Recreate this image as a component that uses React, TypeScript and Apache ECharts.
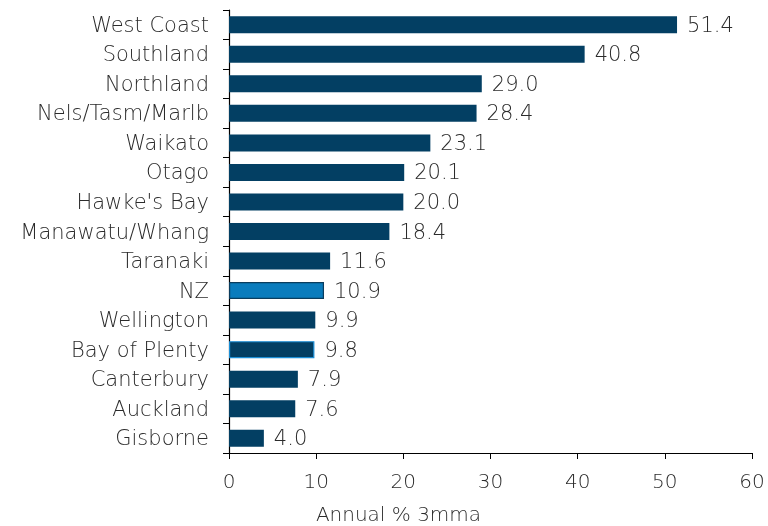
import React, { useEffect, useRef } from "react";
import * as echarts from "echarts";

const regions = [
  "West Coast", "Southland", "Northland", "Nels/Tasm/Marlb", "Waikato", "Otago",
  "Hawke's Bay", "Manawatu/Whang", "Taranaki", "NZ", "Wellington", "Bay of Plenty",
  "Canterbury", "Auckland", "Gisborne",
];
const values = [51.4, 40.8, 29.0, 28.4, 23.1, 20.1, 20.0, 18.4, 11.6, 10.9, 9.9, 9.8, 7.9, 7.6, 4.0];
const xTicks = [0, 10, 20, 30, 40, 50, 60];
const xTitle = "Annual % 3mma";

const DARK = "#033f63";
const FONT = "DejaVu Sans";
const TXT = "#2b2b2b";
const FS = 21;

export default function App() {
  const ref = useRef<HTMLDivElement>(null);
  useEffect(() => {
    const chart = echarts.init(ref.current!, null, { renderer: "svg" });
    const data = values.map((v, i) => {
      const name = regions[i];
      if (name === "NZ") {
        return { value: v, itemStyle: { color: "#0a7cbd", borderColor: "#0a3d5e", borderWidth: 1.2 } };
      }
      if (name === "Bay of Plenty") {
        return { value: v, itemStyle: { color: DARK, borderColor: "#1b8fd6", borderWidth: 1.2 } };
      }
      return { value: v };
    });
    chart.setOption({
      animation: false,
      grid: { left: 229, right: 16, top: 10, bottom: 73, containLabel: false, outerBoundsMode: "none" },
      xAxis: {
        type: "value",
        min: xTicks[0],
        max: xTicks[xTicks.length - 1],
        interval: 10,
        splitLine: { show: false },
        axisLine: { show: true, lineStyle: { color: "#000", width: 1.2 } },
        axisTick: { show: true, length: 6, lineStyle: { color: "#000" } },
        axisLabel: { color: TXT, fontFamily: FONT, fontSize: 20, margin: 18, fontWeight: 200 },
        name: xTitle,
        nameLocation: "middle",
        nameGap: 51,
        nameTextStyle: { color: TXT, fontFamily: FONT, fontSize: 20, fontWeight: 200, padding: [0, 184, 0, 0] },
      },
      yAxis: {
        type: "category",
        data: regions,
        inverse: true,
        axisLine: { show: true, lineStyle: { color: "#000", width: 1.2 } },
        axisTick: { show: true, length: 6, lineStyle: { color: "#000" } },
        axisLabel: { color: TXT, fontFamily: FONT, fontSize: FS, fontWeight: 200, margin: 20 },
      },
      series: [
        {
          type: "bar",
          data,
          barWidth: 17,
          itemStyle: { color: DARK },
          label: {
            show: true,
            position: "right",
            distance: 10,
            color: TXT,
            fontFamily: FONT,
            fontSize: FS,
            fontWeight: 200,
            formatter: (p: any) => Number(p.value).toFixed(1),
          },
        },
      ],
    });
    return () => chart.dispose();
  }, []);
  return <div ref={ref} style={{ position: "fixed", left: 0, top: 0, width: 768, height: 526 }} />;
}
